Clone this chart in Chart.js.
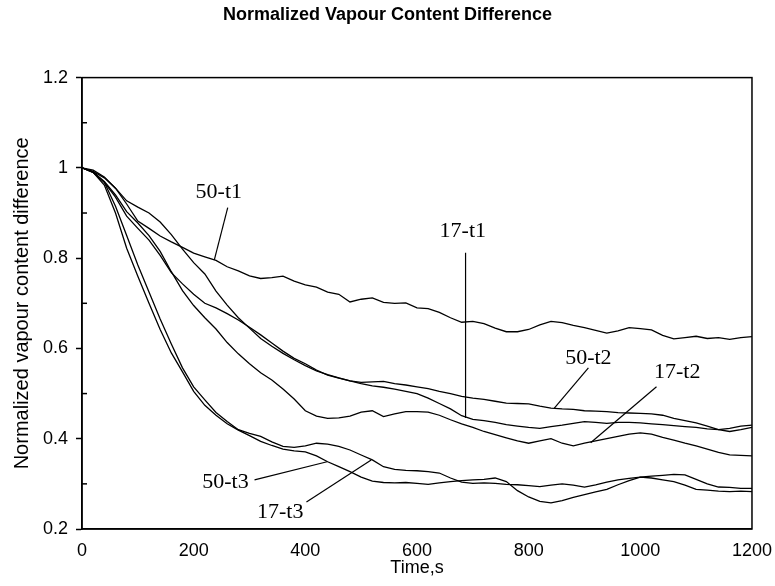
<!DOCTYPE html>
<html>
<head>
<meta charset="utf-8">
<title>Normalized Vapour Content Difference</title>
<script src="https://cdn.jsdelivr.net/npm/chart.js@4.4.1/dist/chart.umd.min.js"></script>
<style>
  html, body { margin: 0; padding: 0; background: #fff; }
  #wrap { width: 775px; height: 586px; }
</style>
</head>
<body>
<div id="wrap"><canvas id="chart" width="775" height="586"></canvas></div>
<script>
// time (s), shared by all runs
const times = [
  0, 20, 40, 60, 80, 100, 120, 140, 160, 180,
  200, 220, 240, 260, 280, 300, 320, 340, 360, 380,
  400, 420, 440, 460, 480, 500, 520, 540, 560, 580,
  600, 620, 640, 660, 680, 700, 720, 740, 760, 780,
  800, 820, 840, 860, 880, 900, 920, 940, 960, 980,
  1000, 1020, 1040, 1060, 1080, 1100, 1120, 1140, 1160, 1180,
  1200
];

// normalized vapour content difference
const run50t1 = [
  1.0, 0.995, 0.98, 0.955, 0.92, 0.882, 0.866, 0.849, 0.836, 0.824,
  0.811, 0.803, 0.795, 0.781, 0.772, 0.761, 0.755, 0.757, 0.760, 0.749,
  0.741, 0.736, 0.725, 0.72, 0.703, 0.709, 0.712, 0.702, 0.700, 0.701,
  0.690, 0.688, 0.680, 0.668, 0.658, 0.660, 0.655, 0.645, 0.637, 0.637,
  0.642, 0.652, 0.660, 0.657, 0.651, 0.646, 0.640, 0.634, 0.639, 0.646,
  0.644, 0.641, 0.629, 0.621, 0.624, 0.627, 0.622, 0.624, 0.620, 0.624,
  0.626
];
const run17t1 = [
  1.0, 0.992, 0.978, 0.955, 0.927, 0.913, 0.9, 0.88, 0.852, 0.82,
  0.79, 0.765, 0.727, 0.696, 0.668, 0.645, 0.622, 0.605, 0.589, 0.575,
  0.562, 0.55, 0.542, 0.535, 0.528, 0.522, 0.517, 0.514, 0.51, 0.505,
  0.5, 0.49, 0.478, 0.466, 0.451, 0.443, 0.44, 0.436, 0.431, 0.428,
  0.425, 0.423, 0.427, 0.43, 0.434, 0.438, 0.436, 0.434, 0.436, 0.436,
  0.435, 0.433, 0.431, 0.429, 0.427, 0.425, 0.422, 0.42, 0.423, 0.428,
  0.43
];
const run50t2 = [
  1.0, 0.99, 0.968, 0.935, 0.893, 0.866, 0.84, 0.806, 0.768, 0.743,
  0.72, 0.70, 0.69, 0.677, 0.663, 0.647, 0.63, 0.612, 0.594, 0.578,
  0.566, 0.552, 0.541, 0.534, 0.528, 0.525, 0.526, 0.527, 0.522, 0.519,
  0.515, 0.511, 0.505, 0.5, 0.494, 0.49, 0.487, 0.483, 0.479, 0.478,
  0.477, 0.472, 0.468, 0.466, 0.465, 0.462, 0.461, 0.46, 0.458, 0.457,
  0.456, 0.455, 0.452, 0.445, 0.44, 0.435, 0.428, 0.42, 0.416, 0.42,
  0.425
];
const run17t2 = [
  1.0, 0.99, 0.97, 0.94, 0.903, 0.878, 0.85, 0.815, 0.77, 0.728,
  0.695, 0.668, 0.643, 0.613, 0.588, 0.566, 0.546, 0.53, 0.51, 0.488,
  0.462, 0.45, 0.445, 0.446, 0.45, 0.459, 0.462, 0.449, 0.455, 0.46,
  0.46, 0.459, 0.452, 0.442, 0.433, 0.425, 0.416, 0.409, 0.402, 0.395,
  0.39, 0.395, 0.4, 0.39, 0.384, 0.39, 0.395, 0.4, 0.405, 0.41,
  0.413, 0.41, 0.403, 0.397, 0.39, 0.384, 0.377, 0.37, 0.364, 0.363,
  0.362
];
const run50t3 = [
  1.0, 0.99, 0.962, 0.9, 0.822, 0.76, 0.7, 0.642, 0.59, 0.548,
  0.505, 0.474, 0.452, 0.433, 0.419, 0.407, 0.394, 0.385, 0.377, 0.373,
  0.371, 0.362, 0.349, 0.338, 0.327, 0.315, 0.306, 0.303, 0.302, 0.303,
  0.301, 0.299, 0.302, 0.305, 0.307, 0.309, 0.31, 0.313, 0.305, 0.285,
  0.271, 0.261, 0.258, 0.263, 0.27, 0.276, 0.282, 0.288, 0.298, 0.307,
  0.315, 0.313, 0.309, 0.305, 0.297, 0.288, 0.286, 0.284, 0.283, 0.284,
  0.283
];
const run17t3 = [
  1.0, 0.992, 0.968, 0.915, 0.85, 0.785, 0.725, 0.665, 0.61, 0.557,
  0.515, 0.486, 0.458, 0.438, 0.42, 0.412, 0.405, 0.393, 0.383, 0.381,
  0.384, 0.39, 0.388, 0.383, 0.375, 0.364, 0.353, 0.338, 0.332, 0.33,
  0.329, 0.327, 0.324, 0.313, 0.304, 0.301, 0.302, 0.301, 0.299, 0.298,
  0.296, 0.294, 0.297, 0.3, 0.297, 0.293, 0.298, 0.304, 0.309, 0.312,
  0.315, 0.317, 0.319, 0.321, 0.32, 0.31, 0.3, 0.293, 0.292, 0.29,
  0.29
];

const runNames = ['50-t1', '17-t1', '50-t2', '17-t2', '50-t3', '17-t3'];
const runValues = [run50t1, run17t1, run50t2, run17t2, run50t3, run17t3];

// axis ticks
const xTicks = [0, 200, 400, 600, 800, 1000, 1200];
const yTicks = [0.2, 0.4, 0.6, 0.8, 1.0, 1.2];
const yMinorTicks = [0.3, 0.5, 0.7, 0.9, 1.1];

// curve labels, in data units: text centre, leader start, leader end
const noteText = ['50-t1', '17-t1', '50-t2', '17-t2', '50-t3', '17-t3'];
const noteAt   = [[245, 0.947], [682, 0.859], [907, 0.579], [1066, 0.548], [257, 0.304], [355, 0.238]];
const noteFrom = [[261, 0.912], [687, 0.812], [907, 0.557], [1029, 0.515], [309, 0.309], [402, 0.260]];
const noteTo   = [[237, 0.796], [687, 0.446], [846, 0.468], [911, 0.391], [439, 0.349], [518, 0.353]];

const sans = '"Liberation Sans", Arial, sans-serif';
const serif = '"Liberation Serif", "Times New Roman", serif';

// box round the plot, inner minor ticks, curve labels
const framePlugin = {
  id: 'frame',
  afterDraw(chart) {
    const ctx = chart.ctx;
    const a = chart.chartArea;
    const x = chart.scales.x, y = chart.scales.y;
    ctx.save();
    ctx.strokeStyle = '#000';
    ctx.lineWidth = 1.5;
    ctx.strokeRect(a.left, a.top, a.right - a.left, a.bottom - a.top);

    yMinorTicks.forEach(v => {
      const py = y.getPixelForValue(v);
      ctx.beginPath();
      ctx.moveTo(a.left, py);
      ctx.lineTo(a.left + 5, py);
      ctx.stroke();
    });

    ctx.lineWidth = 1.2;
    ctx.fillStyle = '#000';
    ctx.font = '22px ' + serif;
    ctx.textAlign = 'center';
    ctx.textBaseline = 'middle';
    noteText.forEach((txt, i) => {
      ctx.fillText(txt, x.getPixelForValue(noteAt[i][0]), y.getPixelForValue(noteAt[i][1]));
      ctx.beginPath();
      ctx.moveTo(x.getPixelForValue(noteFrom[i][0]), y.getPixelForValue(noteFrom[i][1]));
      ctx.lineTo(x.getPixelForValue(noteTo[i][0]), y.getPixelForValue(noteTo[i][1]));
      ctx.stroke();
    });
    ctx.restore();
  }
};

const datasets = runNames.map((name, k) => ({
  label: name,
  data: times.map((t, i) => ({ x: t, y: runValues[k][i] })),
  borderColor: '#000',
  borderWidth: 1.3,
  pointRadius: 0,
  tension: 0,
  fill: false
}));

new Chart(document.getElementById('chart').getContext('2d'), {
  type: 'line',
  data: { datasets: datasets },
  options: {
    responsive: false,
    animation: false,
    layout: { padding: { left: 0, right: 0, top: 0, bottom: 0 } },
    plugins: {
      legend: { display: false },
      tooltip: { enabled: false },
      title: {
        display: true,
        text: 'Normalized Vapour Content Difference',
        color: '#000',
        font: { family: sans, size: 18, weight: 'bold' },
        padding: { top: 4, bottom: 52 }
      }
    },
    scales: {
      x: {
        type: 'linear',
        min: 0,
        max: 1200,
        afterBuildTicks: s => { s.ticks = xTicks.map(v => ({ value: v })); },
        ticks: {
          color: '#000', font: { family: sans, size: 18 }, padding: 3, maxRotation: 0,
          callback: v => String(v)
        },
        grid: { display: false },
        border: { color: '#000', width: 1.5 },
        title: {
          display: true, text: 'Time,s', color: '#000',
          font: { family: sans, size: 18 }, padding: { top: 0, bottom: 7 }
        },
        afterFit: s => { s.height = 57; }
      },
      y: {
        min: 0.2,
        max: 1.2,
        afterBuildTicks: s => { s.ticks = yTicks.map(v => ({ value: v })); },
        ticks: {
          color: '#000', font: { family: sans, size: 18 }, padding: 8,
          callback: v => String(+v.toFixed(1))
        },
        grid: { drawOnChartArea: false, tickLength: 6, color: '#000', tickWidth: 1.5 },
        border: { color: '#000', width: 1.5 },
        title: {
          display: true, text: 'Normalized vapour content difference', color: '#000',
          font: { family: sans, size: 20 }, padding: { top: 10, bottom: 0 }
        },
        afterFit: s => { s.width = 82; }
      }
    }
  },
  plugins: [framePlugin]
});
</script>
</body>
</html>
